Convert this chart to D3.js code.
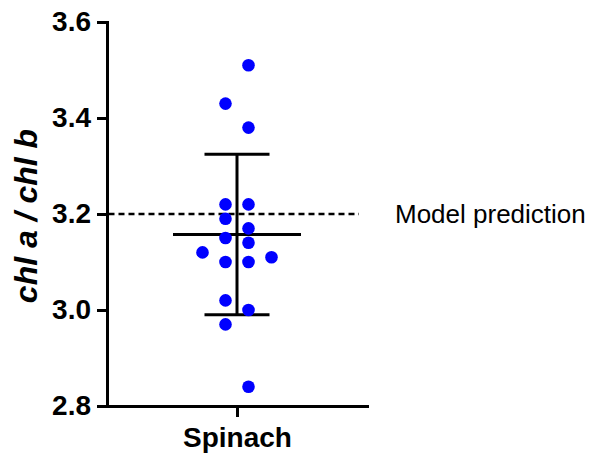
<!DOCTYPE html>
<html>
<head>
<meta charset="utf-8">
<script src="https://cdn.jsdelivr.net/npm/d3@7"></script>
<style>
	body { margin: 0; background: #ffffff; }
	svg { display: block; font-family: Arial, "Liberation Sans", sans-serif; }
</style>
</head>
<body>
<div id="chart"></div>
<script>
var categories = ["Spinach"];
var chlRatio = [3.51, 3.43, 3.38, 3.22, 3.22, 3.19, 3.17, 3.15, 3.14, 3.12, 3.11, 3.10, 3.10, 3.02, 3.00, 2.97, 2.84];
var yTicks = [2.8, 3.0, 3.2, 3.4, 3.6];
var modelPrediction = 3.2;
var predictionLabel = "Model prediction";
var yTitle = "chl a / chl b";

var w = 593;
var h = 460;
// note: "top" is a reserved window property, so use plot* names
var plotLeft = 107, plotRight = 367, plotTop = 22, plotBottom = 406;
var dotR = 6.3;
var laneGap = 23;

var x = d3.scalePoint()
	.domain(categories)
	.range([plotLeft, plotRight])
	.padding(0.5);

var y = d3.scaleLinear()
	.domain([yTicks[0], yTicks[yTicks.length - 1]])
	.range([plotBottom, plotTop]);

// simple column-scatter layout: group close values into rows,
// then spread each row across lanes, alternating sides
function swarmLanes(values, rowSpan) {
	var order = d3.range(values.length).sort(function (a, b) { return values[b] - values[a]; });
	var lanes = new Array(values.length);
	var side = 1;
	var i = 0;
	while (i < order.length) {
		var first = values[order[i]];
		var row = [];
		while (i < order.length && first - values[order[i]] <= rowSpan) {
			row.push(order[i]);
			i++;
		}
		var half = Math.ceil(row.length / 2);
		row.forEach(function (idx, k) {
			var ring = half - 1 - Math.floor(k / 2);
			lanes[idx] = side * (ring + 0.5);
			side = -side;
		});
	}
	return lanes;
}

var lanes = swarmLanes(chlRatio, 0.025);
var mean = d3.mean(chlRatio);
var sd = d3.deviation(chlRatio);
var cx = x(categories[0]);

var svg = d3.select('#chart')
	.append('svg')
	.attr('width', w)
	.attr('height', h);

// model prediction reference line
svg.append('line')
	.attr('x1', plotLeft + 1.5)
	.attr('x2', plotRight - 8)
	.attr('y1', y(modelPrediction))
	.attr('y2', y(modelPrediction))
	.attr('stroke', '#000')
	.attr('stroke-width', 2.3)
	.attr('stroke-dasharray', '6,4');

svg.append('text')
	.attr('x', plotRight + 28)
	.attr('y', y(modelPrediction))
	.attr('dy', '0.35em')
	.attr('font-size', '26px')
	.attr('fill', '#000')
	.text(predictionLabel);

// axes
var yAxis = svg.append('g')
	.attr('transform', 'translate(' + plotLeft + ',0)')
	.call(d3.axisLeft(y)
		.tickValues(yTicks)
		.tickFormat(d3.format('.1f'))
		.tickSizeInner(10)
		.tickSizeOuter(0)
		.tickPadding(6));

var xAxis = svg.append('g')
	.attr('transform', 'translate(0,' + plotBottom + ')')
	.call(d3.axisBottom(x)
		.tickSizeInner(11)
		.tickSizeOuter(0)
		.tickPadding(10));

[yAxis, xAxis].forEach(function (g) {
	g.select('.domain')
		.attr('stroke', '#000')
		.attr('stroke-width', 3)
		.attr('stroke-linecap', 'square');
	g.selectAll('.tick line')
		.attr('stroke', '#000')
		.attr('stroke-width', 3);
	g.selectAll('.tick text')
		.attr('fill', '#000')
		.attr('font-family', 'Arial, "Liberation Sans", sans-serif')
		.attr('font-size', '28px')
		.attr('font-weight', 'bold');
});

svg.append('text')
	.attr('transform', 'translate(37,' + ((plotTop + plotBottom) / 2 + 2) + ') rotate(-90)')
	.attr('text-anchor', 'middle')
	.attr('font-size', '32px')
	.attr('font-weight', 'bold')
	.attr('font-style', 'italic')
	.attr('fill', '#000')
	.text(yTitle);

// mean and SD error bar
var bar = svg.append('g')
	.attr('stroke', '#000')
	.attr('stroke-width', 3);

bar.append('line')
	.attr('x1', cx).attr('x2', cx)
	.attr('y1', y(mean + sd)).attr('y2', y(mean - sd));

bar.selectAll('line.cap')
	.data([mean + sd, mean - sd])
	.enter()
	.append('line')
	.attr('class', 'cap')
	.attr('x1', cx - 32.5).attr('x2', cx + 32.5)
	.attr('y1', function (d) { return y(d); })
	.attr('y2', function (d) { return y(d); });

bar.append('line')
	.attr('x1', cx - 64).attr('x2', cx + 64)
	.attr('y1', y(mean)).attr('y2', y(mean));

// points
svg.selectAll('circle')
	.data(chlRatio)
	.enter()
	.append('circle')
	.attr('cx', function (d, i) { return cx + lanes[i] * laneGap; })
	.attr('cy', function (d) { return y(d); })
	.attr('r', dotR)
	.attr('fill', '#0000ff');
</script>
</body>
</html>
